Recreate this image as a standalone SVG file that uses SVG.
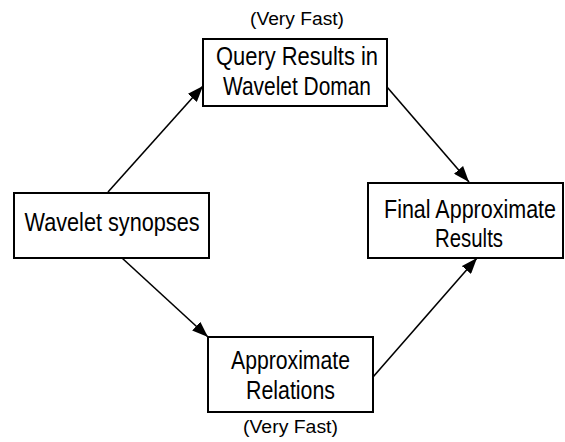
<svg xmlns="http://www.w3.org/2000/svg" width="565" height="442" viewBox="0 0 565 442">
<style>
.box{fill:#fff;stroke:#000;stroke-width:2}
.t{font-family:"Liberation Sans",Arial,sans-serif;font-size:22px;fill:#000;text-anchor:middle}
.s{font-family:"Liberation Sans",Arial,sans-serif;font-size:17.5px;fill:#000;text-anchor:middle}
.c{stroke:#000;stroke-width:1.6;fill:none}
</style>
<defs>
<marker id="ah" viewBox="0 0 16 12" refX="16" refY="6" markerWidth="16" markerHeight="12" markerUnits="userSpaceOnUse" orient="auto">
<path d="M0,0 L16,6 L0,12 Z" fill="#000"/>
</marker>
</defs>
<g id="connectors">
<line class="c" x1="108" y1="192" x2="203" y2="86" marker-end="url(#ah)"/>
<line class="c" x1="387" y1="87" x2="469" y2="182" marker-end="url(#ah)"/>
<line class="c" x1="122" y1="258" x2="208" y2="337" marker-end="url(#ah)"/>
<line class="c" x1="373" y1="377" x2="477" y2="258" marker-end="url(#ah)"/>
</g>
<g id="query">
<text class="s" x="297" y="25" textLength="94" lengthAdjust="spacingAndGlyphs">(Very Fast)</text>
<rect class="box" x="203" y="39" width="184" height="67"/>
<text class="t" transform="translate(297,65) scale(1,1.136)" textLength="162" lengthAdjust="spacingAndGlyphs">Query Results in</text>
<text class="t" transform="translate(297,95) scale(1,1.136)" textLength="148" lengthAdjust="spacingAndGlyphs">Wavelet Doman</text>
</g>
<g id="synopses">
<rect class="box" x="14" y="193" width="195" height="65"/>
<text class="t" transform="translate(112,231) scale(1,1.136)" textLength="175" lengthAdjust="spacingAndGlyphs">Wavelet synopses</text>
</g>
<g id="final">
<rect class="box" x="368" y="183" width="195" height="75"/>
<text class="t" transform="translate(470,218) scale(1,1.136)" textLength="172" lengthAdjust="spacingAndGlyphs">Final Approximate</text>
<text class="t" transform="translate(469,247) scale(1,1.136)" textLength="68" lengthAdjust="spacingAndGlyphs">Results</text>
</g>
<g id="relations">
<rect class="box" x="208" y="337" width="165" height="75"/>
<text class="t" transform="translate(290.5,369) scale(1,1.136)" textLength="119" lengthAdjust="spacingAndGlyphs">Approximate</text>
<text class="t" transform="translate(290.5,399) scale(1,1.136)" textLength="89" lengthAdjust="spacingAndGlyphs">Relations</text>
<text class="s" x="290.5" y="433" textLength="95" lengthAdjust="spacingAndGlyphs">(Very Fast)</text>
</g>
</svg>
